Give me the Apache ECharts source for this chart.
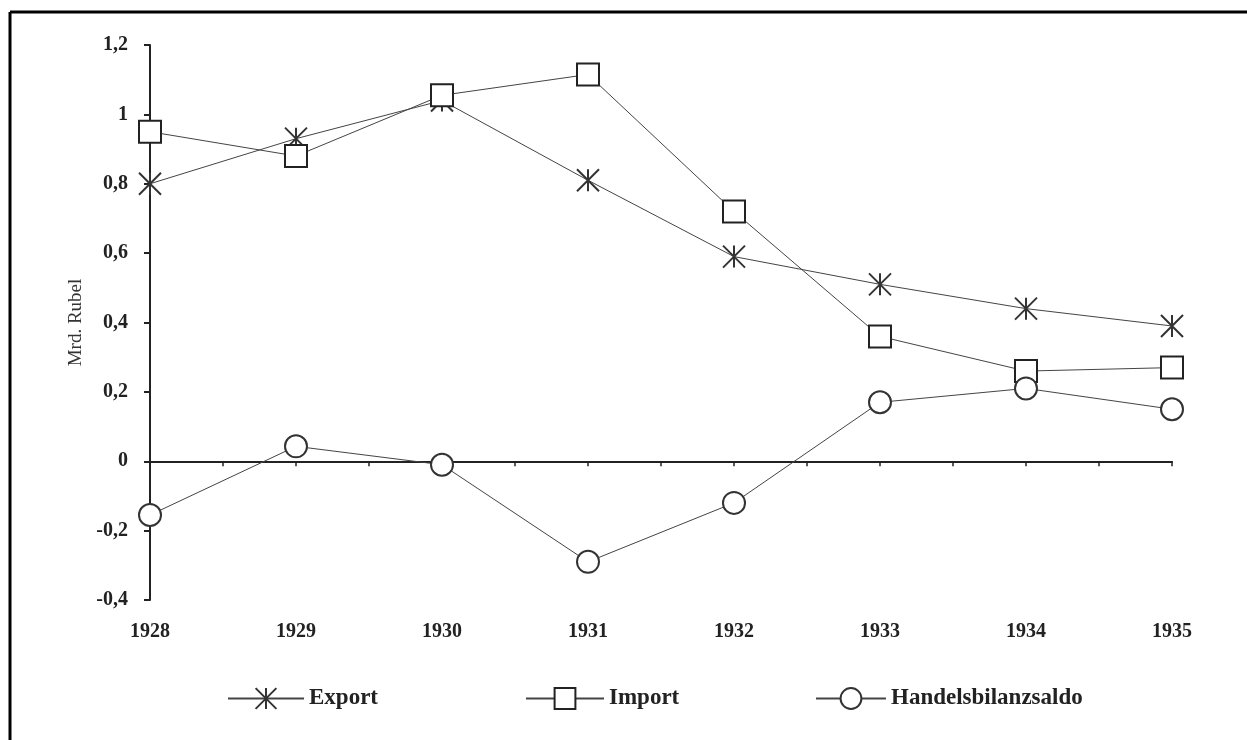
<!DOCTYPE html>
<html>
<head>
<meta charset="utf-8">
<script src="https://cdn.jsdelivr.net/npm/echarts@6/dist/echarts.min.js"></script>
<style>
html,body{margin:0;padding:0;background:#fff;}
#main{width:1247px;height:740px;}
</style>
</head>
<body>
<div id="main"></div>
<script>
//数据
var years = ["1928","1929","1930","1931","1932","1933","1934","1935"];
var exportData = [0.80, 0.93, 1.04, 0.81, 0.59, 0.51, 0.44, 0.39];
var importData = [0.95, 0.88, 1.055, 1.115, 0.72, 0.36, 0.26, 0.27];
var saldoData = [-0.155, 0.043, -0.01, -0.29, -0.12, 0.17, 0.21, 0.15];

var serif = "'Liberation Serif', 'DejaVu Serif', serif";
var ink = "#222";

// x als Zahl, damit Zwischenstriche gehen
function pairs(arr){
    var out = [];
    for(var i = 0; i < arr.length; i++){
        out.push([Number(years[i]), arr[i]]);
    }
    return out;
}

var starPath = "path://M1,0 L19,20 M19,0 L1,20 M10,0 L10,20";

var myChart = echarts.init(document.getElementById("main"));

var legendText = {color : ink, fontFamily : serif, fontWeight : "bold", fontSize : 23};

var option = {

    backgroundColor : "#fff",

    animation : false,

    grid : {left : 150, right : 75, top : 45, bottom : 140},

    graphic : [
        {type : "line", shape : {x1 : 10, y1 : 12, x2 : 1247, y2 : 12}, style : {stroke : "#000", lineWidth : 3}},
        {type : "line", shape : {x1 : 10, y1 : 12, x2 : 10, y2 : 740}, style : {stroke : "#000", lineWidth : 3}}
    ],

    xAxis : [
        {
            type : "value",
            min : 1928,
            max : 1935,
            interval : 1,
            axisLine : {onZero : true, lineStyle : {color : ink, width : 2}},
            axisTick : {show : true, length : 5, lineStyle : {color : ink, width : 1.5}},
            minorTick : {show : true, splitNumber : 2, length : 5, lineStyle : {color : ink, width : 1.5}},
            axisLabel : {show : false},
            splitLine : {show : false}
        },
        {
            type : "category",
            data : years,
            boundaryGap : false,
            position : "bottom",
            axisLine : {show : false, onZero : false},
            axisTick : {show : false},
            axisLabel : {
                margin : 22,
                color : ink,
                fontFamily : serif,
                fontWeight : "bold",
                fontSize : 20
            }
        }
    ],

    yAxis : {
        type : "value",
        min : -0.4,
        max : 1.2,
        interval : 0.2,
        name : "Mrd. Rubel",
        nameLocation : "middle",
        nameGap : 64,
        nameMoveOverlap : false,
        nameTextStyle : {color : "#333", fontFamily : serif, fontSize : 19},
        axisLine : {show : true, lineStyle : {color : ink, width : 2}},
        axisTick : {show : true, length : 6, lineStyle : {color : ink, width : 2}},
        splitLine : {show : false},
        axisLabel : {
            margin : 22,
            color : ink,
            fontFamily : serif,
            fontWeight : "bold",
            fontSize : 20,
            formatter : function(v){
                return String(Math.round(v * 10) / 10).replace(".", ",");
            }
        }
    },

    legend : [
        {
            left : 222, top : 682,
            itemWidth : 76, itemHeight : 26, itemGap : 0,
            data : ["Export"],
            textStyle : legendText
        },
        {
            left : 520, top : 682,
            itemWidth : 78, itemHeight : 26, itemGap : 0,
            data : ["Import"],
            textStyle : legendText
        },
        {
            left : 810, top : 682,
            itemWidth : 70, itemHeight : 26, itemGap : 0,
            data : ["Handelsbilanzsaldo"],
            textStyle : legendText
        }
    ],

    series : [
        {
            name : "Export",
            type : "line",
            data : pairs(exportData),
            symbol : starPath,
            symbolSize : 22,
            lineStyle : {color : "#444", width : 1},
            itemStyle : {color : "#fff", borderColor : "#333", borderWidth : 2}
        },
        {
            name : "Import",
            type : "line",
            data : pairs(importData),
            symbol : "rect",
            symbolSize : 22,
            lineStyle : {color : "#444", width : 1},
            itemStyle : {color : "#fff", borderColor : "#222", borderWidth : 2}
        },
        {
            name : "Handelsbilanzsaldo",
            type : "line",
            data : pairs(saldoData),
            symbol : "circle",
            symbolSize : 22,
            lineStyle : {color : "#444", width : 1},
            itemStyle : {color : "#fff", borderColor : "#333", borderWidth : 2}
        }
    ]
};

myChart.setOption(option);
</script>
</body>
</html>
